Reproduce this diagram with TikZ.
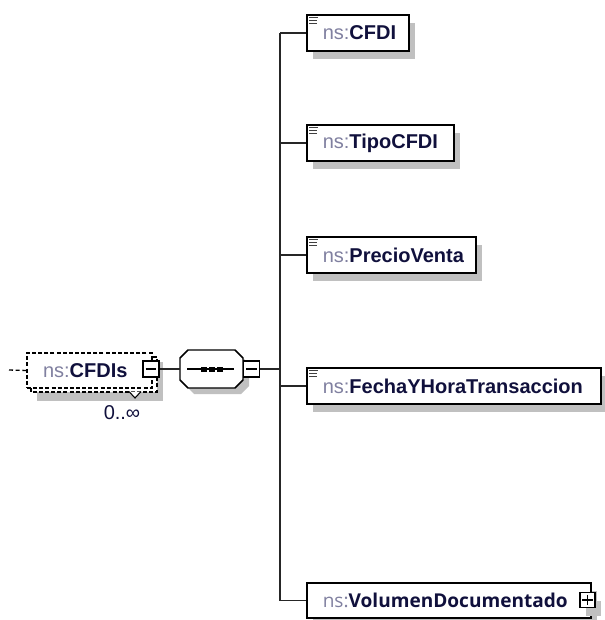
\documentclass[tikz,border=0pt]{standalone}
\usepackage{fontspec}
\setmainfont{Liberation Sans}
\newfontfamily\volfont{Open Sans}
\usetikzlibrary{shadows}
\definecolor{nsgray}{RGB}{128,128,160}
\definecolor{navy}{RGB}{16,16,60}
\definecolor{shadowgray}{RGB}{192,192,192}
\newcommand\nsp{{\mdseries\color{nsgray}ns:}}
\tikzset{
  shad/.style={general shadow={fill=shadowgray, shadow xshift=4.5pt, shadow yshift=-6pt}},
  elem/.style={draw=black, line width=1.15pt, fill=white, shad, anchor=west,
    minimum height=27pt, inner xsep=0pt, inner ysep=0pt, text=navy,
    font=\fontsize{15}{18}\selectfont\bfseries},
  optbox/.style={draw=black, line width=1pt, fill=white, dash pattern=on 3pt off 1.6pt},
  tog/.style={draw=black, line width=0.9pt, fill=white, minimum size=12pt, inner sep=0pt},
  conn/.style={draw=black!85, line width=1.1pt},
  iconline/.style={draw=black!75, line width=0.6pt}
}
\newcommand\icon[1]{%
  \draw[iconline] ([shift={(3,3)}]#1.north west) -- ++(9,0);
  \draw[iconline] ([shift={(3,6)}]#1.north west) -- ++(8,0);
  \draw[iconline] ([shift={(3,9)}]#1.north west) -- ++(8,0);}
\begin{document}
\begin{tikzpicture}[x=0.75pt,y=-0.75pt]
\useasboundingbox (0,0) rectangle (604,620);
% spine reference
\coordinate (sp) at (280,0);
% element boxes
\node[elem] (cfdi) at (306,33) {\makebox[76.5pt][l]{\hspace{12pt}\nsp CFDI}};
\node[elem] (tipo) at (306,143) {\makebox[110.25pt][l]{\hspace{12pt}\nsp TipoCFDI}};
\node[elem] (precio) at (306,255) {\makebox[126.75pt][l]{\hspace{12pt}\nsp PrecioVenta}};
\node[elem] (fecha) at (306,386) {\makebox[220.5pt][l]{\hspace{12pt}\nsp FechaYHoraTransaccion}};
\node[elem, minimum height=26.25pt, font=\fontsize{14.3}{17}\selectfont\volfont\bfseries] (vol) at (306,600.5) {\makebox[213pt][l]{\hspace{12pt}\nsp VolumenDocumentado}};
\icon{cfdi}\icon{tipo}\icon{precio}\icon{fecha}
% plus box
\node[tog, minimum size=11.25pt, shad] (volp) at (587.5,600) {};
\draw[line width=0.8pt] ([xshift=2.2pt]volp.west) -- ([xshift=-2.2pt]volp.east);
\draw[line width=0.8pt] ([yshift=-2.2pt]volp.north) -- ([yshift=2.2pt]volp.south);
% spine and branches
\draw[conn] (cfdi.west -| sp) -- (vol.west -| sp);
\foreach \n in {cfdi,tipo,precio,fecha,vol}{\draw[conn] (\n.west -| sp) -- (\n.west);}
% sequence compositor (octagon)
\node[minimum width=47.25pt, minimum height=28.5pt, inner sep=0pt] (seq) at (211.5,369) {};
\fill[shadowgray] (194,356) -- (241,356) -- (249,364) -- (249,386) -- (241,394) -- (194,394) -- (186,386) -- (186,364) -- cycle;
\draw[line width=1.1pt, fill=white] (188,350) -- (235,350) -- (243,358) -- (243,380) -- (235,388) -- (188,388) -- (180,380) -- (180,358) -- cycle;
\draw[line width=0.9pt] ([xshift=5.5pt]seq.west) -- ([xshift=-7pt]seq.east);
\foreach \dx in {203.5,211.5,219.5}{\fill (\dx-3,366.5) rectangle (\dx+3,371.5);}
\node[tog] (seqm) at (251.5,369) {};
\draw[line width=0.8pt] ([xshift=2.5pt]seqm.west) -- ([xshift=-2.5pt]seqm.east);
\draw[conn] (seqm.east) -- (seqm.east -| sp);
% CFDIs optional repeated element
\fill[shadowgray] (37,362) rectangle (163,401);
\draw[optbox] (31,357) rectangle (157,392);
\draw[line width=0.8pt, fill=white] (129,391.5) -- (135,398) -- (141,391.5);
\node[optbox, minimum width=93.75pt, minimum height=26.25pt, inner sep=0pt, text=navy,
  font=\fontsize{15}{18}\selectfont\bfseries] (cfdis) at (89.5,370.5) {\makebox[93.75pt][l]{\hspace{12pt}\nsp CFDIs}};
\node[tog] (cfdism) at (151,369) {};
\draw[line width=0.8pt] ([xshift=2.5pt]cfdism.west) -- ([xshift=-2.5pt]cfdism.east);
\draw[conn] (cfdism.east) -- (seq.west);
\coordinate (inp) at (9,370);
\draw[black, line width=1pt, dash pattern=on 3pt off 2pt] (inp) -- (cfdis.west);
\node[text=navy, font=\fontsize{15}{18}\selectfont] (mult) at (122,413) {0..∞};
\end{tikzpicture}
\end{document}
